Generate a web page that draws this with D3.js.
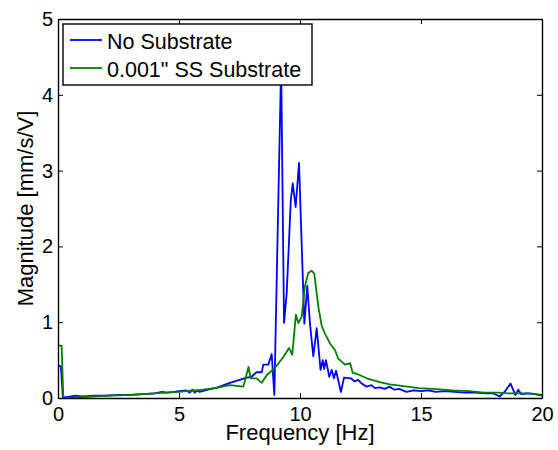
<!DOCTYPE html>
<html>
<head>
<meta charset="utf-8">
<script src="https://cdn.jsdelivr.net/npm/d3@7"></script>
<style>
  body { margin: 0; background: #fff; }
  text { font-family: "Liberation Sans", Arial, sans-serif; fill: #000; }
</style>
</head>
<body>
<div id="chart"></div>
<script>
// series (frequency in Hz, magnitude in mm/s/V)
var blueFreq = [0, 0.12, 0.2, 0.4, 0.7, 1.0, 1.5, 2.0, 2.5, 3.0, 3.5, 4.0, 4.3, 4.5, 4.8, 5.0, 5.3, 5.45, 5.55, 5.65, 5.75, 5.85,
  6.2, 6.6, 7.1, 7.5, 7.8, 8.0, 8.2, 8.42, 8.48, 8.69, 8.83, 8.94, 9.22, 9.34, 9.45, 9.62, 9.70, 9.82, 9.96,
  10.10, 10.18, 10.30, 10.41, 10.55, 10.69, 10.85, 10.94, 11.00, 11.07, 11.21, 11.31, 11.40, 11.49, 11.69, 11.82,
  12.1, 12.25, 12.4, 12.55, 12.75, 12.95, 13.1, 13.3, 13.5, 13.7, 13.9, 14.1, 14.4, 14.7, 15.0, 15.3, 15.6, 16.0,
  16.4, 16.8, 17.2, 17.7, 18.0, 18.25, 18.45, 18.7, 18.9, 19.02, 19.15, 19.4, 19.7, 20.0];
var blueMag = [0.42, 0.42, 0.01, 0.01, 0.03, 0.02, 0.03, 0.03, 0.04, 0.04, 0.05, 0.06, 0.08, 0.07, 0.08, 0.09, 0.10, 0.07, 0.11, 0.07, 0.10, 0.08,
  0.11, 0.14, 0.20, 0.24, 0.27, 0.28, 0.34, 0.34, 0.44, 0.44, 0.58, 0.04, 4.40, 0.99, 1.38, 2.61, 2.83, 2.52, 3.10,
  1.73, 0.98, 1.48, 0.99, 0.55, 0.92, 0.37, 0.50, 0.38, 0.50, 0.28, 0.37, 0.26, 0.36, 0.08, 0.27,
  0.26, 0.22, 0.24, 0.19, 0.15, 0.17, 0.13, 0.14, 0.12, 0.15, 0.11, 0.12, 0.08, 0.10, 0.09, 0.10, 0.08, 0.09,
  0.08, 0.07, 0.07, 0.06, 0.06, 0.02, 0.08, 0.19, 0.04, 0.11, 0.05, 0.06, 0.05, 0.03];

var greenFreq = [0, 0.15, 0.22, 0.5, 1.0, 2.0, 3.0, 4.0, 5.0, 6.0, 6.5, 7.1, 7.66, 7.87, 7.96, 8.2, 8.42, 8.62, 8.97, 9.31, 9.55, 9.68,
  9.83, 9.93, 10.07, 10.2, 10.34, 10.48, 10.59, 10.76, 10.9, 11.03, 11.24, 11.45, 11.58, 11.86, 12.07, 12.18, 12.34,
  12.76, 13.3, 13.7, 14.2, 14.9, 15.5, 16.3, 17.0, 17.6, 18.2, 18.6, 19.0, 19.5, 20.0];
var greenMag = [0.69, 0.69, 0.0, 0.0, 0.01, 0.03, 0.04, 0.06, 0.08, 0.11, 0.13, 0.17, 0.15, 0.41, 0.26, 0.26, 0.20, 0.30, 0.40, 0.54, 0.66, 0.57,
  1.10, 0.99, 1.07, 1.47, 1.65, 1.68, 1.64, 1.20, 0.95, 0.85, 0.72, 0.63, 0.52, 0.44, 0.46, 0.33, 0.32,
  0.26, 0.21, 0.18, 0.16, 0.13, 0.12, 0.10, 0.09, 0.07, 0.07, 0.06, 0.06, 0.06, 0.04];

var seriesNames = ["No Substrate", "0.001\" SS Substrate"];
var seriesColors = ["#0000ff", "#008000"];
var xTicks = [0, 5, 10, 15, 20];
var yTicks = [0, 1, 2, 3, 4, 5];

var width = 558, height = 450;
var margin = {top: 19, right: 16, bottom: 52, left: 58};

var svg = d3.select("#chart").append("svg")
    .attr("width", width)
    .attr("height", height);

var x = d3.scaleLinear().domain([0, 20]).range([margin.left, width - margin.right]);
var y = d3.scaleLinear().domain([0, 5]).range([height - margin.bottom, margin.top]);

svg.append("clipPath").attr("id", "plotclip")
  .append("rect")
    .attr("x", x(0)).attr("y", y(5))
    .attr("width", x(20) - x(0)).attr("height", y(0) - y(5));

var line = d3.line()
    .x(function(d){ return x(d[0]); })
    .y(function(d){ return y(d[1]); });

var blue = blueFreq.map(function(f, i){ return [f, blueMag[i]]; });
var green = greenFreq.map(function(f, i){ return [f, greenMag[i]]; });

[blue, green].forEach(function(s, i){
  svg.append("path")
    .datum(s)
    .attr("clip-path", "url(#plotclip)")
    .attr("fill", "none")
    .attr("stroke", seriesColors[i])
    .attr("stroke-width", 1.8)
    .attr("stroke-linejoin", "round")
    .attr("d", line);
});

// axes: ticks point inward, box on
var tickFs = 20, labelFs = 22, legendFs = 21.5;
var fmt = d3.format("d");
var axBottom = svg.append("g")
    .attr("transform", "translate(0," + y(0) + ")")
    .call(d3.axisBottom(x).tickValues(xTicks).tickFormat(fmt).tickSizeInner(-5).tickSizeOuter(0).tickPadding(9));
var axLeft = svg.append("g")
    .attr("transform", "translate(" + x(0) + ",0)")
    .call(d3.axisLeft(y).tickValues(yTicks).tickFormat(fmt).tickSizeInner(-5).tickSizeOuter(0).tickPadding(5));
var axTop = svg.append("g")
    .attr("transform", "translate(0," + y(5) + ")")
    .call(d3.axisTop(x).tickValues(xTicks).tickSizeInner(-5).tickSizeOuter(0).tickFormat(""));
var axRight = svg.append("g")
    .attr("transform", "translate(" + x(20) + ",0)")
    .call(d3.axisRight(y).tickValues(yTicks).tickSizeInner(-5).tickSizeOuter(0).tickFormat(""));

[axBottom, axLeft, axTop, axRight].forEach(function(g){
  g.select(".domain").attr("stroke", "#000").attr("stroke-width", 1.4);
  g.selectAll(".tick line").attr("stroke", "#000");
  g.selectAll(".tick text")
    .attr("font-size", tickFs)
    .attr("font-family", "Liberation Sans, Arial, sans-serif")
    .attr("fill", "#000");
});

svg.append("text")
    .attr("x", x(10)).attr("y", 440)
    .attr("text-anchor", "middle")
    .attr("font-size", labelFs)
    .text("Frequency [Hz]");

svg.append("text")
    .attr("transform", "translate(33," + ((y(0) + y(5)) / 2) + ")rotate(-90)")
    .attr("text-anchor", "middle")
    .attr("font-size", labelFs)
    .text("Magnitude [mm/s/V]");

// legend
var legend = svg.append("g").attr("transform", "translate(63,24)");
legend.append("rect")
    .attr("width", 249).attr("height", 61)
    .attr("fill", "#fff").attr("stroke", "#000").attr("stroke-width", 1.4);
seriesNames.forEach(function(name, i){
  var ly = 16 + i * 28;
  legend.append("line")
      .attr("x1", 7).attr("x2", 39)
      .attr("y1", ly).attr("y2", ly)
      .attr("stroke", seriesColors[i]).attr("stroke-width", 1.8);
  legend.append("text")
      .attr("x", 44).attr("y", ly + 8.5)
      .attr("font-size", legendFs)
      .text(name);
});
</script>
</body>
</html>
